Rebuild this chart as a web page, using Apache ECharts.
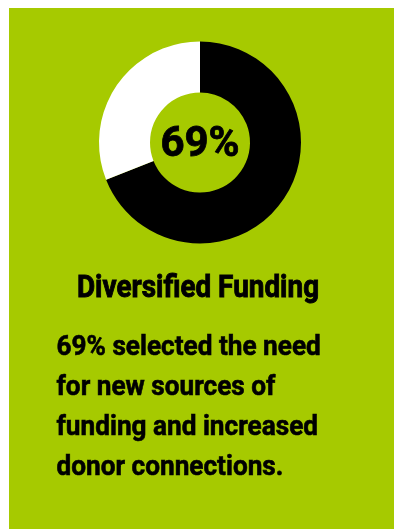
<!DOCTYPE html>
<html>
<head>
<meta charset="utf-8">
<style>
  html, body { margin: 0; padding: 0; background: #ffffff; }
  #chart { width: 394px; height: 529px; }
</style>
<script src="https://cdn.jsdelivr.net/npm/echarts@6/dist/echarts.min.js"></script>
</head>
<body>
<div id="chart"></div>
<script>
// Share of respondents who selected diversified funding
const categories = ['Selected', 'Not selected'];
const shares = [69, 31];
const sliceColors = ['#000000', '#ffffff'];
const heading = 'Diversified Funding';
const bodyLines = [
  '69% selected the need',
  'for new sources of',
  'funding and increased',
  'donor connections.'
];

const GREEN = '#a6ca00';
const FONT = 'Roboto, "Noto Sans", sans-serif';

// Condensed, heavy look: bold Roboto squeezed horizontally with a thin outline
function condensedText(text, x, midY, size, squeeze, align, outline) {
  return {
    type: 'text',
    x: x,
    y: midY,
    originX: 0,
    originY: 0,
    scaleX: squeeze,
    style: {
      x: 0,
      y: 0,
      text: text,
      font: 'bold ' + size + 'px ' + FONT,
      fill: '#000000',
      stroke: '#000000',
      lineWidth: outline,
      align: align,
      verticalAlign: 'middle'
    }
  };
}

const bodyMid = 348.3;
const bodyStep = 39.8;

const chart = echarts.init(document.getElementById('chart'), null, { renderer: 'canvas' });

chart.setOption({
  backgroundColor: '#ffffff',
  animation: false,
  graphic: [
    {
      type: 'rect',
      z: -10,
      shape: { x: 9, y: 8, width: 385, height: 521 },
      style: { fill: GREEN }
    },
    condensedText(heading, 198, 289, 31, 0.9, 'center', 0.9)
  ].concat(bodyLines.map((line, i) =>
    condensedText(line, 56.5, bodyMid + i * bodyStep, 28, 0.935, 'left', 0.6)
  )),
  series: [
    {
      type: 'pie',
      center: [200, 142.5],
      radius: [50, 101],
      startAngle: 90,
      clockwise: true,
      silent: true,
      label: { show: false },
      labelLine: { show: false },
      data: categories.map((name, i) => ({
        name,
        value: shares[i],
        itemStyle: { color: sliceColors[i] },
        label: i === 0 ? {
          show: true,
          position: 'center',
          offset: [0, 3],
          formatter: '{c}%',
          fontFamily: FONT,
          fontWeight: 'bold',
          fontSize: 42,
          color: '#000000',
          textBorderColor: '#000000',
          textBorderWidth: 0.8
        } : { show: false }
      }))
    }
  ]
});
</script>
</body>
</html>
